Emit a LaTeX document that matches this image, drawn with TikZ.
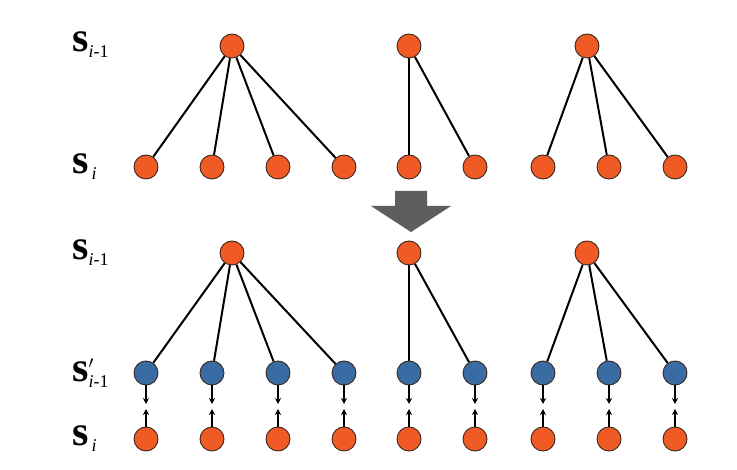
\documentclass[tikz,border=0pt]{standalone}
\usepackage{fontspec}
\setmainfont{Liberation Serif}
\usetikzlibrary{arrows.meta}
\definecolor{orn}{RGB}{240,90,36}
\definecolor{blu}{RGB}{58,108,164}
\definecolor{bord}{RGB}{60,40,30}
\definecolor{garrow}{RGB}{95,93,96}
\tikzset{
  onode/.style={circle,draw=bord,line width=0.9pt,fill=orn,minimum size=24pt,inner sep=0pt},
  bnode/.style={circle,draw=bord,line width=0.9pt,fill=blu,minimum size=24pt,inner sep=0pt},
  edge/.style={line width=2pt,black},
  sarrow/.style={line width=1.6pt,-{Stealth[length=6pt,width=6pt]}},
  lab/.style={anchor=base west,inner sep=0pt,font=\fontsize{42}{42}\selectfont}
}
\newcommand{\sub}[1]{\raisebox{-6pt}{\fontsize{18}{18}\selectfont #1}}
\newcommand{\subp}[1]{\rlap{\raisebox{13pt}{\fontsize{18}{18}\selectfont$\prime$}}\raisebox{-6pt}{\fontsize{18}{18}\selectfont #1}}
\begin{document}
\begin{tikzpicture}[x=1pt,y=-1pt]
\useasboundingbox[fill=white] (0,0) rectangle (737,470);
% labels
\node[lab] (L1) at (72,52) {\textbf{s}\sub{\textit{i}-1}};
\node[lab] (L2) at (72,174) {\textbf{s}\sub{\,\textit{i}}};
\node[lab] (L3) at (72,260) {\textbf{s}\sub{\textit{i}-1}};
\node[lab] (L4) at (72,382) {\textbf{s}\subp{\textit{i}-1}};
\node[lab] (L5) at (72,446) {\textbf{s}\sub{\,\textit{i}}};
% top section
\foreach \n/\x in {1/232,2/409,3/587} \node[onode] (tp\n) at (\x,46) {};
\foreach \n/\x in {1/146,2/212,3/278,4/344,5/409,6/475,7/543,8/609,9/675} \node[onode] (tc\n) at (\x,167) {};
\foreach \c in {1,2,3,4} \draw[edge] (tp1) -- (tc\c);
\foreach \c in {5,6} \draw[edge] (tp2) -- (tc\c);
\foreach \c in {7,8,9} \draw[edge] (tp3) -- (tc\c);
% big arrow
\fill[garrow] (395,191) -- (427,191) -- (427,206) -- (451,206) -- (411,232) -- (371,206) -- (395,206) -- cycle;
% bottom section
\foreach \n/\x in {1/232,2/409,3/587} \node[onode] (bp\n) at (\x,253) {};
\foreach \n/\x in {1/146,2/212,3/278,4/344,5/409,6/475,7/543,8/609,9/675} {
  \node[bnode] (bm\n) at (\x,373) {};
  \node[onode] (bc\n) at (\x,439) {};
  \coordinate (dn\n) at (\x,404);
  \coordinate (up\n) at (\x,409);
  \draw[sarrow] (bm\n) -- (dn\n);
  \draw[sarrow] (bc\n) -- (up\n);
}
\foreach \c in {1,2,3,4} \draw[edge] (bp1) -- (bm\c);
\foreach \c in {5,6} \draw[edge] (bp2) -- (bm\c);
\foreach \c in {7,8,9} \draw[edge] (bp3) -- (bm\c);
\end{tikzpicture}
\end{document}
